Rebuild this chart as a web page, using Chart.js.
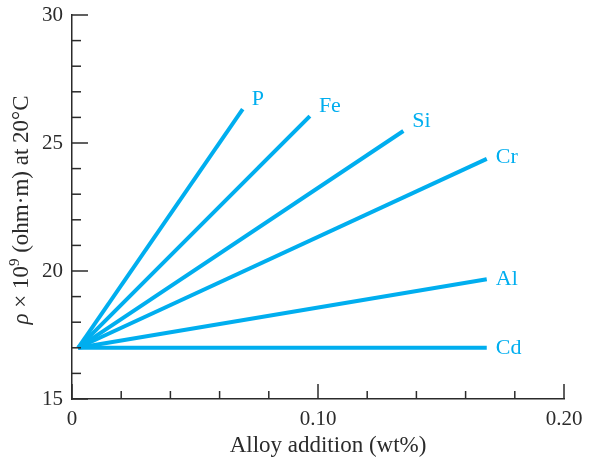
<!DOCTYPE html>
<html lang="en">
<head>
  <meta charset="UTF-8">
  <title>Resistivity vs alloy addition</title>
  <style>
    body {
      margin: 0;
      background: #ffffff;
    }
    .wrap {
      width: 603px;
      height: 461px;
      position: relative;
    }
  </style>
</head>
<body>
  <div class="wrap">
    <canvas id="rho-chart"></canvas>
  </div>

  <script src="https://cdn.jsdelivr.net/npm/chart.js"></script>
  <script>
    // values
    const elements = ["P", "Fe", "Si", "Cr", "Al", "Cd"];
    const wtStart = [0.0025, 0.0025, 0.0025, 0.0025, 0.0025, 0.0025];
    const wtEnd = [0.0694, 0.0967, 0.1347, 0.1686, 0.1686, 0.1686];
    const rhoStart = [17, 17, 17, 17, 17, 17];
    const rhoEnd = [26.32, 26.05, 25.47, 24.38, 19.68, 17.0];

    const xTickLabels = ["0", "0.10", "0.20"];
    const yTickLabels = ["15", "20", "25", "30"];

    const lineColor = "#00aeef";
    const inkColor = "#2b2b2b";
    const serif = "'Liberation Serif', 'Times New Roman', serif";

    // label nudges next to each line end (pixels)
    const labelDx = [9, 9, 9, 9, 9, 9];
    const labelDy = [-10, -10, -10, -2, 0, 0];

    const datasets = elements.map((el, i) => ({
      label: el,
      data: [
        { x: wtStart[i], y: rhoStart[i] },
        { x: wtEnd[i], y: rhoEnd[i] },
      ],
      borderColor: lineColor,
      borderWidth: 4,
      pointRadius: 0,
      tension: 0,
    }));

    // inward tick marks, line labels and axis titles
    const extras = {
      id: "extras",
      afterDraw(chart) {
        const c = chart.ctx;
        const area = chart.chartArea;
        const xs = chart.scales.x;
        const ys = chart.scales.y;

        c.save();
        c.strokeStyle = inkColor;
        c.lineWidth = 1.5;
        ys.ticks.forEach((t) => {
          const py = ys.getPixelForValue(t.value);
          const len = Math.round(t.value) % 5 === 0 ? 16 : 9;
          c.beginPath();
          c.moveTo(area.left, py);
          c.lineTo(area.left + len, py);
          c.stroke();
        });
        xs.ticks.forEach((t) => {
          const px = xs.getPixelForValue(t.value);
          const len = Math.round(t.value * 100) % 10 === 0 ? 15 : 8;
          c.beginPath();
          c.moveTo(px, area.bottom);
          c.lineTo(px, area.bottom - len);
          c.stroke();
        });

        // element names at line ends
        c.fillStyle = lineColor;
        c.font = "22px " + serif;
        c.textAlign = "left";
        c.textBaseline = "middle";
        chart.data.datasets.forEach((ds, i) => {
          const end = ds.data[1];
          const px = xs.getPixelForValue(end.x);
          const py = ys.getPixelForValue(end.y);
          c.fillText(ds.label, px + labelDx[i], py + labelDy[i]);
        });

        // x title
        c.fillStyle = inkColor;
        c.font = "23px " + serif;
        c.textAlign = "center";
        c.fillText("Alloy addition (wt%)", (area.left + area.right) / 2 + 10, 446);

        // y title, rotated, with italic rho and superscript 9
        const parts = [
          { t: "\u03c1", f: "italic 23px " + serif, dy: 0 },
          { t: " \u00d7 10", f: "23px " + serif, dy: 0 },
          { t: "9", f: "15px " + serif, dy: -7 },
          { t: " (ohm\u00b7m) at 20\u00b0C", f: "23px " + serif, dy: 0 },
        ];
        let total = 0;
        parts.forEach((p) => {
          c.font = p.f;
          p.w = c.measureText(p.t).width;
          total += p.w;
        });
        c.translate(22, 210);
        c.rotate(-Math.PI / 2);
        c.textAlign = "left";
        let cx = -total / 2;
        parts.forEach((p) => {
          c.font = p.f;
          c.fillText(p.t, cx, p.dy);
          cx += p.w;
        });
        c.restore();
      },
    };

    const ctx = document.getElementById("rho-chart").getContext("2d");
    new Chart(ctx, {
      type: "line",
      data: { datasets: datasets },
      options: {
        responsive: true,
        maintainAspectRatio: false,
        animation: false,
        layout: { padding: { left: 0, top: 15, right: 39, bottom: 0 } },
        plugins: {
          legend: { display: false },
          tooltip: { enabled: false },
        },
        scales: {
          x: {
            type: "linear",
            min: 0,
            max: 0.2,
            afterFit: (s) => { s.height = 62; },
            grid: { display: false, drawTicks: false },
            border: { display: true, color: inkColor, width: 1.5 },
            ticks: {
              stepSize: 0.02,
              autoSkip: false,
              maxRotation: 0,
              padding: 8,
              color: inkColor,
              font: { family: serif, size: 21 },
              callback: (v) => {
                const k = Math.round(v * 100);
                return k % 10 === 0 ? xTickLabels[k / 10] : "";
              },
            },
          },
          y: {
            min: 15,
            max: 30,
            afterFit: (s) => {
              s.width = 72;
              s.paddingTop = 0;
              s.paddingBottom = 0;
            },
            grid: { display: false, drawTicks: false },
            border: { display: true, color: inkColor, width: 1.5 },
            ticks: {
              stepSize: 1,
              autoSkip: false,
              padding: 9,
              color: inkColor,
              font: { family: serif, size: 21 },
              callback: (v) => {
                const k = Math.round(v);
                return k % 5 === 0 ? yTickLabels[(k - 15) / 5] : "";
              },
            },
          },
        },
      },
      plugins: [extras],
    });
  </script>
</body>
</html>
